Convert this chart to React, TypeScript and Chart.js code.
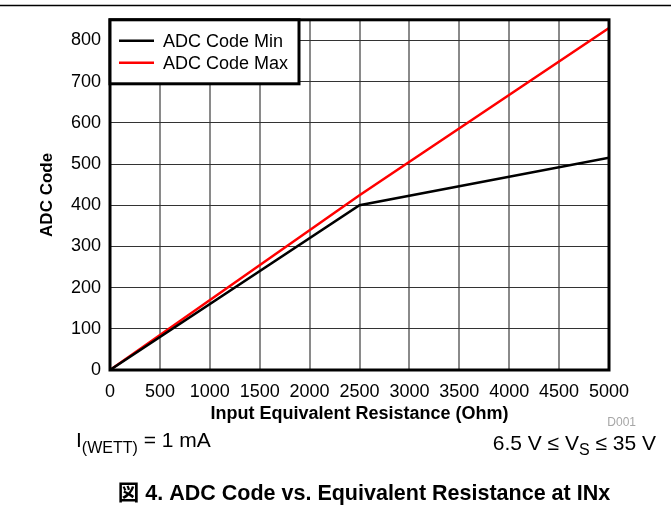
import React, { useEffect, useRef } from 'react';
import { Chart, registerables } from 'chart.js';

Chart.register(...registerables);

const FONT = 'Arial, "Liberation Sans", Helvetica, sans-serif';

const resistanceOhm = [0, 2500, 5000];
const adcCodeMin = [0, 400, 515];
const adcCodeMax = [0, 424, 830];
const seriesLabels = ['ADC Code Min', 'ADC Code Max'];
const seriesColors = ['#000000', '#ff0000'];
const xTitle = 'Input Equivalent Resistance (Ohm)';
const yTitle = 'ADC Code';
const figureId = 'D001';
const caption = '図 4. ADC Code vs. Equivalent Resistance at INx';

const overlayPlugin = {
  id: 'overlay',
  afterDatasetsDraw(chart: any) {
    const { ctx, chartArea: a } = chart;
    ctx.save();
    ctx.strokeStyle = '#000';
    ctx.lineWidth = 3;
    ctx.strokeRect(a.left, a.top, a.right - a.left, a.bottom - a.top);
    // legend
    const lx = a.left, ly = a.top, lw = 189, lh = 64;
    ctx.fillStyle = '#fff';
    ctx.fillRect(lx, ly, lw, lh);
    ctx.strokeRect(lx, ly, lw, lh);
    ctx.font = `18px ${FONT}`;
    ctx.textBaseline = 'middle';
    ctx.textAlign = 'left';
    chart.data.datasets.forEach((ds: any, i: number) => {
      const y = ly + 21 + i * 22;
      ctx.strokeStyle = ds.borderColor;
      ctx.lineWidth = 2.5;
      ctx.beginPath();
      ctx.moveTo(lx + 9, y);
      ctx.lineTo(lx + 44, y);
      ctx.stroke();
      ctx.fillStyle = '#000';
      ctx.fillText(ds.label, lx + 53, y + 1);
    });
    ctx.restore();
  },
  afterDraw(chart: any) {
    const { ctx, width } = chart;
    ctx.save();
    // top rule
    ctx.strokeStyle = '#000';
    ctx.lineWidth = 1.5;
    ctx.beginPath();
    ctx.moveTo(0, 5.5);
    ctx.lineTo(width, 5.5);
    ctx.stroke();
    ctx.textBaseline = 'alphabetic';
    // figure id
    ctx.fillStyle = '#a6a6a6';
    ctx.font = `12px ${FONT}`;
    ctx.textAlign = 'right';
    ctx.fillText(figureId, 636, 426);
    // left condition
    ctx.fillStyle = '#000';
    ctx.textAlign = 'left';
    let x = 76;
    const base = 447;
    ctx.font = `21px ${FONT}`;
    ctx.fillText('I', x, base);
    x += ctx.measureText('I').width;
    ctx.font = `16px ${FONT}`;
    ctx.fillText('(WETT)', x, base + 6);
    x += ctx.measureText('(WETT)').width;
    ctx.font = `21px ${FONT}`;
    ctx.fillText(' = 1 mA', x, base);
    // right condition
    const rb = 450;
    const p1 = '6.5 V \u2264 V', p2 = 'S', p3 = ' \u2264 35 V';
    ctx.font = `21px ${FONT}`;
    const w1 = ctx.measureText(p1).width, w3 = ctx.measureText(p3).width;
    ctx.font = `16px ${FONT}`;
    const w2 = ctx.measureText(p2).width;
    let rx = 656 - (w1 + w2 + w3);
    ctx.font = `21px ${FONT}`;
    ctx.fillText(p1, rx, rb);
    rx += w1;
    ctx.font = `16px ${FONT}`;
    ctx.fillText(p2, rx, rb + 5);
    rx += w2;
    ctx.font = `21px ${FONT}`;
    ctx.fillText(p3, rx, rb);
    // caption
    ctx.font = `bold 21.5px ${FONT}, "Noto Sans CJK JP"`;
    ctx.textAlign = 'center';
    ctx.fillText(caption, 364, 500);
    ctx.restore();
  },
};

export default function App() {
  const canvasRef = useRef<HTMLCanvasElement | null>(null);

  useEffect(() => {
    const canvas = canvasRef.current;
    if (!canvas) return;
    const toPoints = (ys: number[]) => resistanceOhm.map((x, i) => ({ x, y: ys[i] }));
    const chart = new Chart(canvas, {
      type: 'line',
      data: {
        datasets: [
          {
            label: seriesLabels[0],
            data: toPoints(adcCodeMin),
            borderColor: seriesColors[0],
            backgroundColor: seriesColors[0],
            borderWidth: 2.5,
            pointRadius: 0,
            tension: 0,
          },
          {
            label: seriesLabels[1],
            data: toPoints(adcCodeMax),
            borderColor: seriesColors[1],
            backgroundColor: seriesColors[1],
            borderWidth: 2.5,
            pointRadius: 0,
            tension: 0,
          },
        ],
      },
      options: {
        responsive: false,
        devicePixelRatio: 1,
        animation: false,
        layout: { padding: { left: 0, right: 62, top: 14, bottom: 83 } },
        plugins: {
          legend: { display: false },
          tooltip: { enabled: false },
        },
        scales: {
          x: {
            type: 'linear',
            min: 0,
            max: 5000,
            border: { display: false },
            grid: { color: '#8a8a8a', lineWidth: 2, drawTicks: false },
            ticks: {
              stepSize: 500,
              padding: 11,
              maxRotation: 0,
              color: '#000',
              font: { family: FONT, size: 18 },
              callback: (v: any) => String(v),
            },
            title: {
              display: true,
              text: xTitle,
              color: '#000',
              font: { family: FONT, size: 18, weight: 'bold' },
              padding: { top: 0, bottom: 0 },
            },
            afterFit: (s: any) => {
              s.height = 55;
            },
          },
          y: {
            type: 'linear',
            min: 0,
            max: 850,
            border: { display: false },
            grid: { color: '#333', lineWidth: 1, drawTicks: false },
            ticks: {
              stepSize: 50,
              padding: 9,
              color: '#000',
              font: { family: FONT, size: 18 },
              callback: (v: any) => (Number(v) % 100 === 0 ? String(v) : ''),
            },
            title: {
              display: true,
              text: yTitle,
              color: '#000',
              font: { family: FONT, size: 17, weight: 'bold' },
              padding: { top: 37, bottom: 0 },
            },
            afterFit: (s: any) => {
              s.width = 110;
            },
          },
        },
      } as any,
      plugins: [overlayPlugin],
    });
    return () => chart.destroy();
  }, []);

  return (
    <div style={{ position: 'absolute', left: 0, top: 0, width: 671, height: 508, background: '#fff' }}>
      <canvas ref={canvasRef} width={671} height={508} style={{ width: 671, height: 508, display: 'block' }} />
    </div>
  );
}
